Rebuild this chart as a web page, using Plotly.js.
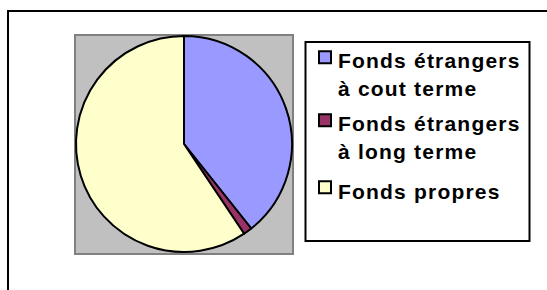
<!DOCTYPE html>
<html>
<head>
<meta charset="utf-8">
<script src="https://cdn.plot.ly/plotly-3.0.1.min.js"></script>
<style>
html,body{margin:0;padding:0;background:#fff;}
#chart{width:547px;height:290px;}
#chart .legendtext{letter-spacing:1.2px;}
</style>
</head>
<body>
<div id="chart"></div>
<script>
// Data
const categories = ["Fonds étrangers<br>à cout terme", "Fonds étrangers<br>à long terme", "Fonds propres"];
const values = [39.3, 1.3, 59.4];
const colors = ["#9999FF", "#993366", "#FFFFCC"];

const W = 547, H = 290;
const px = x => x / W;
const py = y => 1 - y / H;

const trace = {
  type: "pie",
  labels: categories,
  values: values,
  sort: false,
  direction: "clockwise",
  rotation: 0,
  textinfo: "none",
  hoverinfo: "label+percent",
  marker: { colors: colors, line: { color: "#000000", width: 2 } },
  domain: { x: [px(76), px(292)], y: [py(252), py(36)] }
};

const layout = {
  width: W, height: H,
  margin: { l: 0, r: 0, t: 0, b: 0 },
  paper_bgcolor: "#ffffff",
  showlegend: true,
  legend: {
    x: px(298), y: py(40), xanchor: "left", yanchor: "top",
    bgcolor: "rgba(0,0,0,0)", borderwidth: 0,
    font: { family: "Liberation Sans, Arial, sans-serif", size: 21, color: "#000", weight: "bold" },
    valign: "top", tracegroupgap: 0, itemclick: false
  },
  shapes: [
    { type: "rect", xref: "paper", yref: "paper", layer: "below",
      x0: px(8), x1: px(600), y0: py(11), y1: py(320),
      line: { color: "#000", width: 2 }, fillcolor: "rgba(0,0,0,0)" },
    { type: "rect", xref: "paper", yref: "paper", layer: "below",
      x0: px(75), x1: px(293), y0: py(35), y1: py(254),
      line: { color: "#808080", width: 2 }, fillcolor: "#C0C0C0" },
    { type: "rect", xref: "paper", yref: "paper", layer: "below",
      x0: px(305.5), x1: px(529.5), y0: py(42), y1: py(241),
      line: { color: "#000", width: 2 }, fillcolor: "#ffffff" }
  ]
};

const itemShift = [0, 5.5, 15];
Plotly.newPlot("chart", [trace], layout, { displayModeBar: false, staticPlot: true }).then(gd => {
  // no clipping of the legend, entries spread like the original Excel legend
  gd.querySelectorAll(".legend [clip-path]").forEach(el => el.removeAttribute("clip-path"));
  const items = gd.querySelectorAll(".legend .traces");
  items.forEach((el, i) => {
    const t = el.getAttribute("transform") || "";
    const m = /translate\(\s*([-\d.]+)[ ,]+([-\d.]+)\s*\)/.exec(t);
    if (m) el.setAttribute("transform", `translate(${+m[1]},${+m[2] + (itemShift[i] || 0)})`);
    const sym = el.querySelector(".legendsymbols");
    if (sym) sym.setAttribute("transform", "translate(7,-3)");
  });
});
</script>
</body>
</html>
